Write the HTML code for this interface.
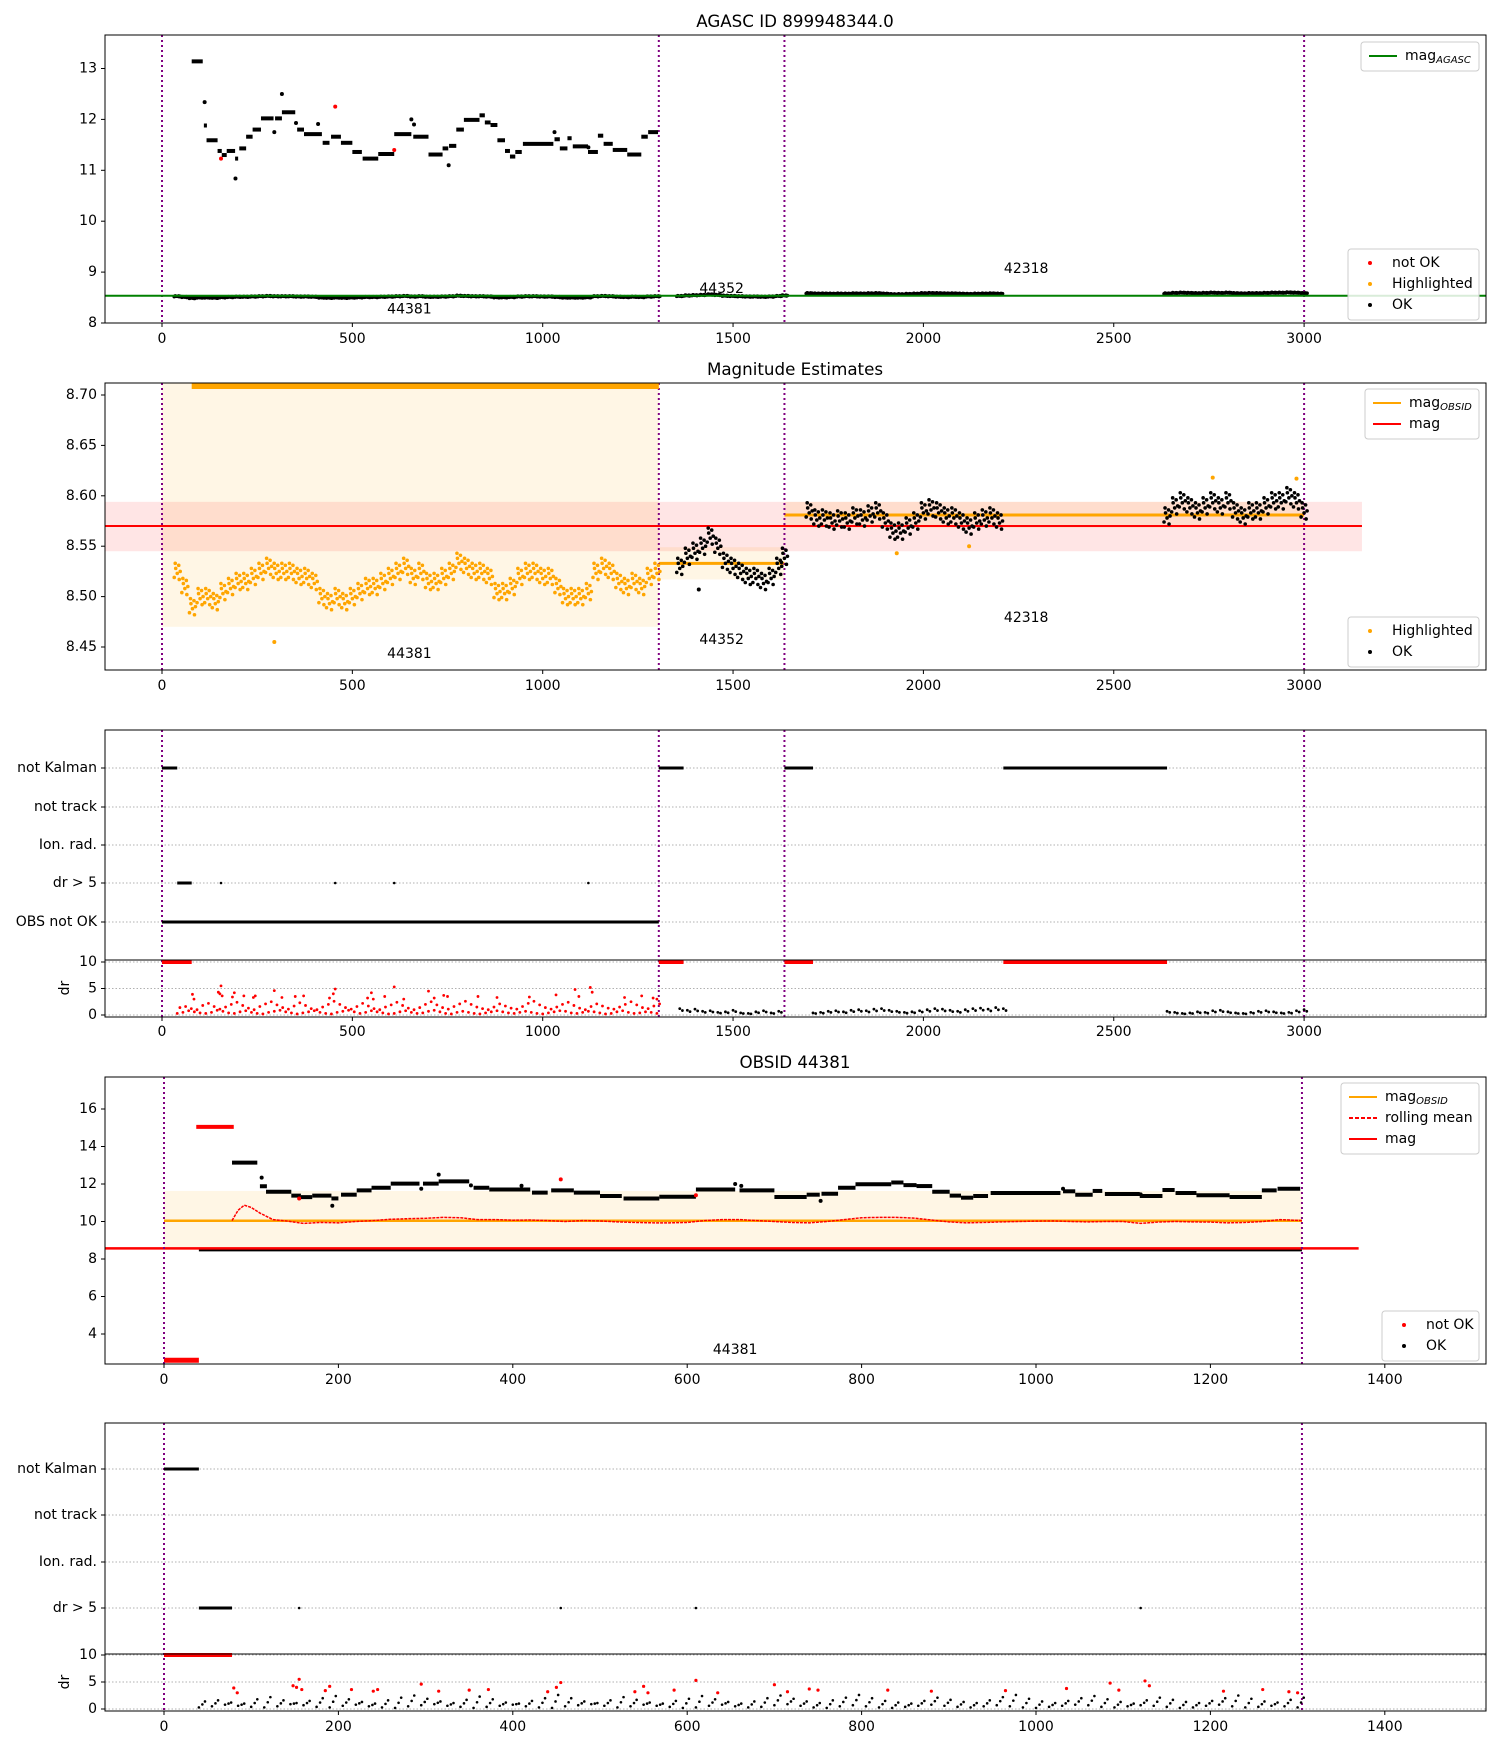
<!DOCTYPE html>
<html><head><meta charset="utf-8"><style>
html,body{margin:0;padding:0;background:#fff;}
svg{display:block;font-family:"DejaVu Sans","Liberation Sans",sans-serif;}
</style></head><body>
<svg id="fig" width="1500" height="1750" viewBox="0 0 1500 1750" xmlns="http://www.w3.org/2000/svg">
<defs>
<clipPath id="c1"><rect x="105" y="35" width="1381" height="288"/></clipPath>
<clipPath id="c2"><rect x="105" y="383" width="1381" height="287"/></clipPath>
<clipPath id="c3"><rect x="105" y="730" width="1381" height="287"/></clipPath>
<clipPath id="c4"><rect x="105" y="1077" width="1381" height="287"/></clipPath>
<clipPath id="c5"><rect x="105" y="1423" width="1381" height="288"/></clipPath>
</defs>
</svg>
<script>
// ---------- data ----------
const obsids = ["44381", "44352", "42318"];
const obsBounds = [0, 1305, 1635, 3000];
const magAgasc = 8.536;
const magMean = 8.570;
const magBandLo = 8.545;
const magBandHi = 8.594;
const obsMag = [10.04, 8.533, 8.581];
const obsBandLo = [8.47, 8.517, 8.568];
const obsBandHi = [11.63, 8.549, 8.594];
const highSteps = [[78,107,13.14],[110,118,11.88],[117,146,11.59],[146,157,11.38],[157,170,11.3],[170,192,11.38],[192,200,11.23],[203,221,11.43],[221,238,11.66],[238,260,11.8],[260,293,12.02],[297,315,12.02],[315,350,12.14],[355,373,11.8],[373,420,11.71],[422,440,11.54],[444,470,11.66],[470,500,11.54],[500,525,11.36],[527,568,11.23],[568,610,11.32],[610,655,11.71],[660,700,11.66],[700,737,11.31],[737,752,11.43],[754,773,11.48],[773,793,11.8],[793,834,11.99],[834,848,12.08],[848,863,11.94],[863,881,11.89],[881,901,11.59],[901,914,11.38],[914,928,11.27],[928,945,11.36],[948,1028,11.52],[1031,1045,11.61],[1045,1065,11.43],[1065,1076,11.63],[1079,1119,11.47],[1119,1145,11.36],[1145,1159,11.68],[1160,1184,11.52],[1184,1222,11.4],[1222,1259,11.31],[1259,1276,11.66],[1277,1303,11.75]];
const highIsoT = [112,193,295,315,352,410,655,662,753,1031,1120];
const highIsoM = [12.34,10.84,11.75,12.5,11.93,11.91,12.0,11.9,11.1,11.75,11.45];
const notOkT = [155,455,610];
const notOkM = [11.23,12.25,11.4];
const badHighSteps = [[37,80,15.05]];
const badLowSteps = [[0,40,2.6]];
const lowStep44381 = [40,1305,8.5];
const t44381 = [40,60,80,100,120,140,160,180,200,220,240,260,280,300,320,340,360,380,400,420,440,460,480,500,520,540,560,580,600,620,640,660,680,700,720,740,760,780,800,820,840,860,880,900,920,940,960,980,1000,1020,1040,1060,1080,1100,1120,1140,1160,1180,1200,1220,1240,1260,1280,1300];
const m44381 = [8.525,8.51,8.49,8.50,8.50,8.495,8.505,8.51,8.515,8.515,8.52,8.525,8.53,8.525,8.525,8.525,8.52,8.52,8.515,8.50,8.495,8.50,8.495,8.50,8.505,8.51,8.51,8.515,8.52,8.525,8.53,8.52,8.525,8.515,8.515,8.52,8.525,8.535,8.53,8.525,8.525,8.52,8.505,8.505,8.51,8.52,8.525,8.525,8.52,8.52,8.51,8.50,8.50,8.50,8.505,8.525,8.53,8.525,8.515,8.51,8.515,8.51,8.52,8.525];
const t44352 = [1360,1380,1400,1420,1440,1460,1480,1500,1520,1540,1560,1580,1600,1620,1635];
const m44352 = [8.53,8.54,8.545,8.55,8.56,8.55,8.535,8.53,8.525,8.52,8.52,8.515,8.52,8.53,8.54];
const t42318 = [1700,1720,1740,1760,1780,1800,1820,1840,1860,1880,1900,1920,1940,1960,1980,2000,2020,2040,2060,2080,2100,2120,2140,2160,2180,2200,2640,2660,2680,2700,2720,2740,2760,2780,2800,2820,2840,2860,2880,2900,2920,2940,2960,2980,3000];
const m42318 = [8.585,8.578,8.578,8.575,8.577,8.575,8.58,8.578,8.582,8.585,8.575,8.565,8.565,8.57,8.575,8.585,8.588,8.585,8.58,8.58,8.575,8.57,8.575,8.578,8.58,8.575,8.58,8.59,8.595,8.59,8.585,8.59,8.595,8.59,8.595,8.585,8.58,8.585,8.585,8.59,8.595,8.595,8.6,8.595,8.585];
const outT = [295,1410,1930,2120,2760,2980];
const outM = [8.455,8.507,8.543,8.550,8.618,8.617];
const rollT = [78,85,92,100,110,125,140,160,180,200,220,240,260,280,300,320,340,360,380,400,420,440,460,480,500,520,540,560,580,600,620,640,660,680,700,720,740,760,780,800,820,840,860,880,900,920,940,960,980,1000,1020,1040,1060,1080,1100,1120,1140,1160,1180,1200,1220,1240,1260,1280,1305];
const rollM = [10.05,10.6,10.87,10.75,10.45,10.1,10.03,9.9,9.95,9.93,10.0,10.05,10.12,10.15,10.17,10.22,10.2,10.1,10.1,10.07,10.08,10.05,10.0,10.05,10.03,9.98,9.95,9.93,9.93,9.95,10.05,10.1,10.1,10.05,10.0,9.95,9.93,10.0,10.1,10.2,10.22,10.22,10.18,10.08,9.98,9.93,9.95,9.98,10.0,10.02,10.03,10.0,9.98,10.0,10.0,9.9,9.97,10.0,9.98,9.97,9.93,9.95,10.0,10.1,10.05];
const notKalman = [[0,40],[1305,1370],[1635,1710],[2210,2640]];
const drGt5Seg = [[40,78]];
const drGt5Pts = [155,455,610,1120];
const obsNotOk = [[0,1305]];
const drClipped = [[0,78],[1305,1370],[1635,1710],[2210,2640]];
const drLow = [0.3,0.5,0.8,0.6,0.4,0.3,0.5,0.9,0.7,0.4,0.3,0.6,0.8,0.5,0.3,0.2,0.5,0.7,0.9,0.6,0.4,0.2,0.4,0.6,0.8,0.5,0.3,0.2,0.5,0.7,0.9,0.6,0.3,0.5,0.8,0.6,0.4,0.2,0.3,0.6,0.8,0.5,0.3,0.4,0.7,0.9,0.6,0.3,0.2,0.5,0.7,0.5,0.3,0.2,0.4,0.6,0.8,0.6,0.4,0.3,0.5,0.7,0.5,0.3,0.2,0.4,0.6,0.8,0.7,0.4,0.3,0.5,0.7,0.6,0.4,0.2,0.3,0.6,0.8,0.5,0.3,0.4,0.6,0.5,0.3];
const drHigh = [1.4,1.6,1.2,1.0,1.8,2.2,1.6,1.1,1.5,2.0,2.4,1.8,1.3,1.0,1.6,2.1,2.5,1.9,1.4,1.1,1.7,2.3,1.8,1.2,1.0,1.5,2.0,2.6,2.0,1.4,1.1,1.6,2.2,1.7,1.2,1.0,1.5,1.9,2.4,1.8,1.3,1.0,1.4,2.0,2.5,1.9,1.4,1.1,1.6,2.1,2.6,2.0,1.5,1.2,1.0,1.5,2.1,1.7,1.3,1.1,1.6,2.2,2.6,1.9,1.4,1.1,1.5,2.0,2.4,1.8,1.3,1.0,1.6,2.1,1.7,1.3,1.1,1.5,2.0,2.5,1.9,1.4,1.2,1.7,2.1];
const drBadT = [80,84,148,152,155,158,185,190,215,240,245,295,315,350,372,440,450,455,540,550,555,585,610,635,700,715,740,750,830,880,965,1035,1085,1095,1125,1130,1215,1260,1290,1300];
const drBadV = [3.9,3.0,4.3,4.0,5.5,3.6,3.4,4.2,3.6,3.3,3.6,4.6,3.3,3.5,3.6,3.2,4.0,4.9,3.2,4.2,3.0,3.5,5.3,3.0,4.5,3.2,3.7,3.5,3.5,3.3,3.4,3.8,4.8,3.5,5.2,4.3,3.3,3.6,3.2,3.0];
const drOtherT = [1360,1380,1400,1420,1440,1460,1480,1500,1520,1540,1560,1580,1600,1620,1710,1730,1750,1770,1790,1810,1830,1850,1870,1890,1910,1930,1950,1970,1990,2010,2030,2050,2070,2090,2110,2130,2150,2170,2190,2210,2640,2660,2680,2700,2720,2740,2760,2780,2800,2820,2840,2860,2880,2900,2920,2940,2960,2980,3000];
const drOtherV = [1.2,0.9,1.1,0.7,0.8,0.5,0.6,0.9,0.4,0.3,0.6,0.8,0.4,0.7,0.4,0.5,0.7,0.8,0.6,0.9,1.0,0.8,1.1,1.2,0.9,0.7,0.5,0.6,0.8,1.0,1.2,1.1,0.9,0.7,1.0,1.2,1.3,1.1,1.4,1.2,0.7,0.5,0.3,0.4,0.6,0.5,0.8,0.9,0.6,0.4,0.3,0.5,0.7,0.8,0.6,0.4,0.5,0.8,1.0];
const xTicksWide = [0,500,1000,1500,2000,2500,3000];
const xTicksObs = [0,200,400,600,800,1000,1200,1400];
const yTicks1 = [8,9,10,11,12,13];
const yTicks2 = [8.45,8.50,8.55,8.60,8.65,8.70];
const yTicks4 = [4,6,8,10,12,14,16];
const flagLabels3 = ["not Kalman","not track","Ion. rad.","dr > 5","OBS not OK"];
const flagLabels5 = ["not Kalman","not track","Ion. rad.","dr > 5"];
const drTicks = [10,5,0];

// ---------- axes ----------
const sxW = t => 162 + t * 0.3807;
const sxO = t => 164 + t * 0.872;
const sy1 = m => 323 - (m - 8) * 50.9;
const sy2 = m => 395 + (8.70 - m) * 1008;
const sy4 = m => 1109 + (16 - m) * 18.75;
const sd3 = d => 1015 - d * 5.3;
const sd5 = d => 1709 - d * 5.4;
const rows3 = [768, 807, 845, 883, 922];
const rows5 = [1469, 1515, 1562, 1608];

const NS = "http://www.w3.org/2000/svg";
const svg = document.getElementById("fig");
function mk(parent, tag, attrs, name) {
  const el = document.createElementNS(NS, tag);
  for (const k in attrs) el.setAttribute(k, attrs[k]);
  
  
  parent.appendChild(el);
  return el;
}
function txt(parent, x, y, s, name, extra) {
  const a = Object.assign({x: x, y: y, "font-size": 14, fill: "#000", "dominant-baseline": "central"}, extra || {});
  const el = mk(parent, "text", a, name);
  el.textContent = s;
  return el;
}
function panel(name, top, bottom, clip) {
  const g = mk(svg, "g", {}, name);
  const inner = mk(g, "g", {"clip-path": "url(#" + clip + ")"}, name + "-plot-area");
  return {g: g, inner: inner, top: top, bottom: bottom};
}
function frame(p) {
  mk(p.g, "rect", {x: 105, y: p.top, width: 1381, height: p.bottom - p.top, fill: "none", stroke: "#000", "stroke-width": 1}, "axes-frame");
}
function xTicks(p, ticks, sx, ly) {
  ticks.forEach(t => {
    mk(p.g, "line", {x1: sx(t), x2: sx(t), y1: p.bottom, y2: p.bottom + 4, stroke: "#000"}, "x-tick");
    txt(p.g, sx(t), ly, String(t), "x-tick-label", {"text-anchor": "middle"});
  });
}
function yTicks(p, ticks, sy, fmt) {
  ticks.forEach(v => {
    mk(p.g, "line", {x1: 101, x2: 105, y1: sy(v), y2: sy(v), stroke: "#000"}, "y-tick");
    txt(p.g, 97, sy(v), fmt(v), "y-tick-label", {"text-anchor": "end"});
  });
}
function vlines(p, bounds, sx) {
  bounds.forEach(t => {
    mk(p.inner, "line", {x1: sx(t), x2: sx(t), y1: p.top, y2: p.bottom, stroke: "#800080", "stroke-width": 2, "stroke-dasharray": "2,3"}, "obsid-boundary");
  });
}
function hline(p, x1, x2, y, color, w, name, dash) {
  const a = {x1: x1, x2: x2, y1: y, y2: y, stroke: color, "stroke-width": w};
  if (dash) a["stroke-dasharray"] = dash;
  return mk(p.inner, "line", a, name);
}
function band(p, x1, x2, y1, y2, color, name) {
  mk(p.inner, "rect", {x: Math.min(x1, x2), y: Math.min(y1, y2), width: Math.abs(x2 - x1), height: Math.abs(y2 - y1), fill: color}, name);
}
function dot(parent, x, y, r, c, name) {
  mk(parent, "circle", {cx: x, cy: y, r: r, fill: c}, name);
}
const cloudOff = [[-3,-0.006],[-1.5,0.003],[0,-0.002],[1.5,0.006],[3,0],[-2,0.008],[2,-0.008]];
function cloud(p, ts, ms, sx, sy, color, r, name) {
  ts.forEach((t, i) => {
    cloudOff.forEach(o => dot(p.inner, sx(t) + o[0], sy(ms[i] + o[1]), r, color, name));
  });
}
function grid(p, y) {
  mk(p.inner, "line", {x1: 105, x2: 1486, y1: y, y2: y, stroke: "#b0b0b0", "stroke-width": 1, "stroke-dasharray": "1.5,2"}, "grid-line");
}
function legend(p, x, y, w, entries, name) {
  const g = mk(p.g, "g", {}, name);
  mk(g, "rect", {x: x, y: y, width: w, height: entries.length * 21 + 8, rx: 3, fill: "#fff", "fill-opacity": 0.85, stroke: "#ccc"}, "legend-frame");
  entries.forEach((e, i) => {
    const cy = y + 14 + i * 21;
    if (e.type === "line") {
      const a = {x1: x + 8, x2: x + 36, y1: cy, y2: cy, stroke: e.color, "stroke-width": 2};
      if (e.dash) a["stroke-dasharray"] = e.dash;
      mk(g, "line", a, "legend-swatch");
      const t = txt(g, x + 44, cy, e.label, "legend-label");
      if (e.sub) { const s = mk(t, "tspan", {"font-size": 10, "font-style": "italic", dy: 4}, "legend-subscript"); s.textContent = e.sub; }
    } else {
      dot(g, x + 22, cy, 2, e.color, "legend-marker");
      txt(g, x + 44, cy, e.label, "legend-label");
    }
  });
}
const titleStyle = {"text-anchor": "middle", "font-size": 16.7};

// ---------- panel 1 ----------
const p1 = panel("agasc-panel", 35, 323, "c1");
txt(svg, 795, 21, "AGASC ID 899948344.0", "panel1-title", titleStyle);
vlines(p1, obsBounds, sxW);
highSteps.forEach(s => hline(p1, sxW(s[0]), sxW(s[1]), sy1(s[2]), "#000", 4, "ok-mag-step"));
highIsoT.forEach((t, i) => dot(p1.inner, sxW(t), sy1(highIsoM[i]), 2, "#000", "ok-point"));
notOkT.forEach((t, i) => dot(p1.inner, sxW(t), sy1(notOkM[i]), 2, "#f00", "not-ok-point"));
cloud(p1, t44381, m44381, sxW, sy1, "#000", 1.8, "ok-point");
cloud(p1, t44352, m44352, sxW, sy1, "#000", 1.8, "ok-point");
cloud(p1, t42318, m42318, sxW, sy1, "#000", 1.8, "ok-point");
hline(p1, 105, 1486, sy1(magAgasc), "#008000", 2, "mag-agasc-line");
txt(p1.g, sxW(650), sy1(8.27), obsids[0], "obsid-label", {"text-anchor": "middle"});
txt(p1.g, sxW(1470), sy1(8.67), obsids[1], "obsid-label", {"text-anchor": "middle"});
txt(p1.g, sxW(2270), sy1(9.06), obsids[2], "obsid-label", {"text-anchor": "middle"});
frame(p1);
xTicks(p1, xTicksWide, sxW, 339);
yTicks(p1, yTicks1, sy1, v => String(v));
legend(p1, 1361, 42, 118, [{type: "line", color: "#008000", label: "mag", sub: "AGASC"}], "legend-agasc");
legend(p1, 1348, 249, 131, [{type: "dot", color: "#f00", label: "not OK"}, {type: "dot", color: "#FFA500", label: "Highlighted"}, {type: "dot", color: "#000", label: "OK"}], "legend-points");

// ---------- panel 2 ----------
const p2 = panel("magnitude-estimates-panel", 383, 670, "c2");
txt(svg, 795, 369, "Magnitude Estimates", "panel2-title", titleStyle);
for (let i = 0; i < 3; i++) band(p2, sxW(obsBounds[i]), sxW(obsBounds[i + 1]), sy2(obsBandLo[i]), sy2(obsBandHi[i]), "rgba(255,165,0,0.1)", "obsid-mag-band");
band(p2, 105, sxW(3152), sy2(magBandLo), sy2(magBandHi), "rgba(255,0,0,0.1)", "mag-band");
hline(p2, 105, sxW(3152), sy2(magMean), "#f00", 2, "mag-line");
for (let i = 0; i < 3; i++) hline(p2, sxW(obsBounds[i]), sxW(obsBounds[i + 1]), sy2(obsMag[i]), "#FFA500", 3, "obsid-mag-line");
vlines(p2, obsBounds, sxW);
mk(p2.inner, "rect", {x: sxW(highSteps[0][0]), y: 383, width: sxW(obsBounds[1]) - sxW(highSteps[0][0]), height: 6, fill: "#FFA500"}, "highlighted-clipped-points");
cloud(p2, t44381, m44381, sxW, sy2, "#FFA500", 1.8, "highlighted-point");
cloud(p2, t44352, m44352, sxW, sy2, "#000", 1.8, "ok-point");
cloud(p2, t42318, m42318, sxW, sy2, "#000", 1.8, "ok-point");
outT.forEach((t, i) => dot(p2.inner, sxW(t), sy2(outM[i]), 2, i === 1 ? "#000" : "#FFA500", "outlier-point"));
txt(p2.g, sxW(650), sy2(8.443), obsids[0], "obsid-label", {"text-anchor": "middle"});
txt(p2.g, sxW(1470), sy2(8.457), obsids[1], "obsid-label", {"text-anchor": "middle"});
txt(p2.g, sxW(2270), sy2(8.479), obsids[2], "obsid-label", {"text-anchor": "middle"});
frame(p2);
xTicks(p2, xTicksWide, sxW, 686);
yTicks(p2, yTicks2, sy2, v => v.toFixed(2));
legend(p2, 1365, 389, 114, [{type: "line", color: "#FFA500", label: "mag", sub: "OBSID"}, {type: "line", color: "#f00", label: "mag"}], "legend-lines");
legend(p2, 1348, 617, 131, [{type: "dot", color: "#FFA500", label: "Highlighted"}, {type: "dot", color: "#000", label: "OK"}], "legend-points");

// ---------- panel 3 ----------
const p3 = panel("flags-panel", 730, 1017, "c3");
rows3.forEach(y => grid(p3, y));
drTicks.forEach(d => grid(p3, sd3(d)));
vlines(p3, obsBounds, sxW);
notKalman.forEach(s => mk(p3.inner, "rect", {x: sxW(s[0]), y: rows3[0] - 1.5, width: sxW(s[1]) - sxW(s[0]), height: 3, fill: "#000"}, "flag-not-kalman"));
drGt5Seg.forEach(s => mk(p3.inner, "rect", {x: sxW(s[0]), y: rows3[3] - 1.5, width: sxW(s[1]) - sxW(s[0]), height: 3, fill: "#000"}, "flag-dr-gt-5"));
drGt5Pts.forEach(t => dot(p3.inner, sxW(t), rows3[3], 1.3, "#000", "flag-dr-gt-5"));
obsNotOk.forEach(s => mk(p3.inner, "rect", {x: sxW(s[0]), y: rows3[4] - 1.5, width: sxW(s[1]) - sxW(s[0]), height: 3, fill: "#000"}, "flag-obs-not-ok"));
drClipped.forEach(s => mk(p3.inner, "rect", {x: sxW(s[0]), y: sd3(10) - 2, width: sxW(s[1]) - sxW(s[0]), height: 4, fill: "#f00"}, "dr-clipped"));
drLow.forEach((v, i) => dot(p3.inner, sxW(40 + i * 15), sd3(v), 1.4, "#f00", "dr-point"));
drHigh.forEach((v, i) => dot(p3.inner, sxW(47 + i * 15), sd3(v), 1.4, "#f00", "dr-point"));
drBadT.forEach((t, i) => dot(p3.inner, sxW(t), sd3(drBadV[i]), 1.4, "#f00", "dr-point"));
drOtherT.forEach((t, i) => { dot(p3.inner, sxW(t), sd3(drOtherV[i]), 1.4, "#000", "dr-point"); dot(p3.inner, sxW(t + 7), sd3(drOtherV[i] * 0.7), 1.4, "#000", "dr-point"); });
mk(p3.g, "line", {x1: 105, x2: 1486, y1: 960, y2: 960, stroke: "#000"}, "subplot-divider");
frame(p3);
xTicks(p3, xTicksWide, sxW, 1032);
flagLabels3.forEach((s, i) => { mk(p3.g, "line", {x1: 101, x2: 105, y1: rows3[i], y2: rows3[i], stroke: "#000"}, "y-tick"); txt(p3.g, 97, rows3[i], s, "flag-label", {"text-anchor": "end"}); });
drTicks.forEach(d => { mk(p3.g, "line", {x1: 101, x2: 105, y1: sd3(d), y2: sd3(d), stroke: "#000"}, "y-tick"); txt(p3.g, 97, sd3(d), String(d), "dr-tick-label", {"text-anchor": "end"}); });
txt(p3.g, 65, 988, "dr", "dr-axis-title", {"text-anchor": "middle", transform: "rotate(-90 65 988)"});

// ---------- panel 4 ----------
const p4 = panel("obsid-panel", 1077, 1364, "c4");
txt(svg, 795, 1062, "OBSID 44381", "panel4-title", titleStyle);
band(p4, sxO(obsBounds[0]), sxO(obsBounds[1]), sy4(obsBandLo[0] + 0.01), sy4(obsBandHi[0]), "rgba(255,165,0,0.1)", "obsid-mag-band");
hline(p4, sxO(obsBounds[0]), sxO(obsBounds[1]), sy4(obsMag[0]), "#FFA500", 2.5, "obsid-mag-line");
hline(p4, sxO(lowStep44381[0]), sxO(lowStep44381[1]), sy4(lowStep44381[2]), "#000", 3.5, "ok-mag-low");
hline(p4, 105, sxO(1370), sy4(magMean), "#f00", 2.5, "mag-line");
highSteps.forEach(s => hline(p4, sxO(s[0]), sxO(s[1]), sy4(s[2]), "#000", 4, "ok-mag-step"));
highIsoT.forEach((t, i) => dot(p4.inner, sxO(t), sy4(highIsoM[i]), 2, "#000", "ok-point"));
notOkT.forEach((t, i) => dot(p4.inner, sxO(t), sy4(notOkM[i]), 2, "#f00", "not-ok-point"));
badHighSteps.forEach(s => hline(p4, sxO(s[0]), sxO(s[1]), sy4(s[2]), "#f00", 4, "not-ok-step"));
badLowSteps.forEach(s => hline(p4, sxO(s[0]), sxO(s[1]), sy4(s[2]), "#f00", 5, "not-ok-step"));
mk(p4.inner, "polyline", {points: rollT.map((t, i) => sxO(t) + "," + sy4(rollM[i])).join(" "), fill: "none", stroke: "#f00", "stroke-width": 1.5, "stroke-dasharray": "3,1"}, "rolling-mean-line");
vlines(p4, [0, 1305], sxO);
txt(p4.g, sxO(655), sy4(3.15), obsids[0], "obsid-label", {"text-anchor": "middle"});
frame(p4);
xTicks(p4, xTicksObs, sxO, 1380);
yTicks(p4, yTicks4, sy4, v => String(v));
legend(p4, 1341, 1083, 138, [{type: "line", color: "#FFA500", label: "mag", sub: "OBSID"}, {type: "line", color: "#f00", label: "rolling mean", dash: "4,2"}, {type: "line", color: "#f00", label: "mag"}], "legend-lines");
legend(p4, 1382, 1311, 97, [{type: "dot", color: "#f00", label: "not OK"}, {type: "dot", color: "#000", label: "OK"}], "legend-points");

// ---------- panel 5 ----------
const p5 = panel("obsid-flags-panel", 1423, 1711, "c5");
rows5.forEach(y => grid(p5, y));
drTicks.forEach(d => grid(p5, sd5(d)));
vlines(p5, [0, 1305], sxO);
mk(p5.inner, "rect", {x: sxO(notKalman[0][0]), y: rows5[0] - 1.5, width: sxO(notKalman[0][1]) - sxO(notKalman[0][0]), height: 3, fill: "#000"}, "flag-not-kalman");
drGt5Seg.forEach(s => mk(p5.inner, "rect", {x: sxO(s[0]), y: rows5[3] - 1.5, width: sxO(s[1]) - sxO(s[0]), height: 3, fill: "#000"}, "flag-dr-gt-5"));
drGt5Pts.forEach(t => dot(p5.inner, sxO(t), rows5[3], 1.3, "#000", "flag-dr-gt-5"));
mk(p5.inner, "rect", {x: sxO(drClipped[0][0]), y: sd5(10) - 2, width: sxO(drClipped[0][1]) - sxO(drClipped[0][0]), height: 4, fill: "#f00"}, "dr-clipped");
drLow.forEach((v, i) => dot(p5.inner, sxO(40 + i * 15), sd5(v), 1.3, "#000", "dr-point"));
drHigh.forEach((v, i) => dot(p5.inner, sxO(47 + i * 15), sd5(v), 1.3, "#000", "dr-point"));
drLow.forEach((v, i) => dot(p5.inner, sxO(44 + i * 15), sd5((v + drHigh[i]) / 2), 1.3, "#000", "dr-point"));
drBadT.forEach((t, i) => dot(p5.inner, sxO(t), sd5(drBadV[i]), 1.6, "#f00", "dr-not-ok-point"));
mk(p5.g, "line", {x1: 105, x2: 1486, y1: 1654, y2: 1654, stroke: "#000"}, "subplot-divider");
frame(p5);
xTicks(p5, xTicksObs, sxO, 1727);
flagLabels5.forEach((s, i) => { mk(p5.g, "line", {x1: 101, x2: 105, y1: rows5[i], y2: rows5[i], stroke: "#000"}, "y-tick"); txt(p5.g, 97, rows5[i], s, "flag-label", {"text-anchor": "end"}); });
drTicks.forEach(d => { mk(p5.g, "line", {x1: 101, x2: 105, y1: sd5(d), y2: sd5(d), stroke: "#000"}, "y-tick"); txt(p5.g, 97, sd5(d), String(d), "dr-tick-label", {"text-anchor": "end"}); });
txt(p5.g, 65, 1682, "dr", "dr-axis-title", {"text-anchor": "middle", transform: "rotate(-90 65 1682)"});
</script>
</body></html>
